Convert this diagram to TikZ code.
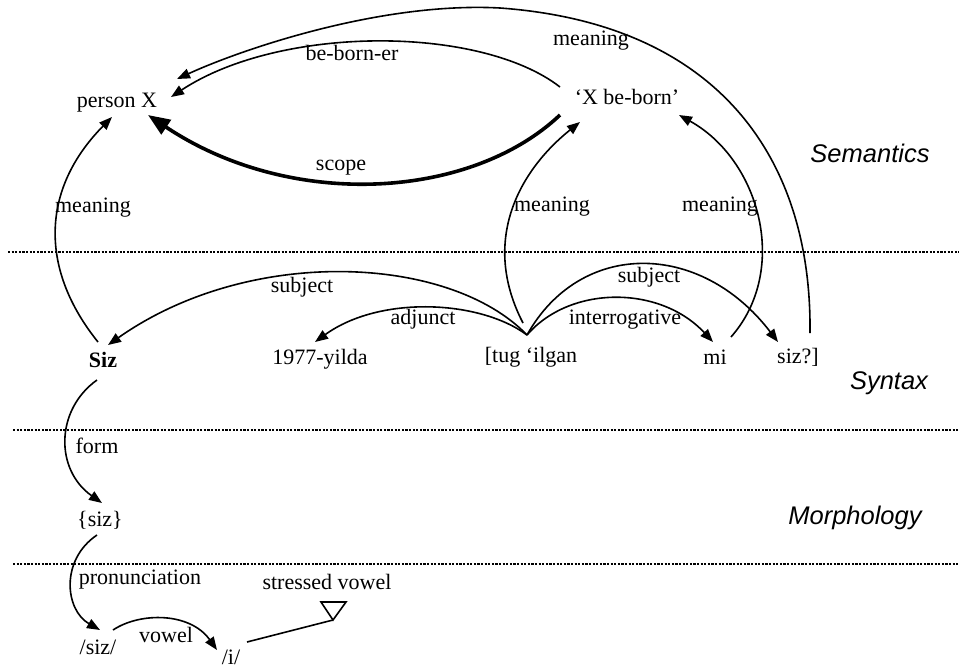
\documentclass[tikz,border=0pt]{standalone}
\usepackage{fontspec}
\setmainfont{Liberation Serif}
\setsansfont{Liberation Sans}
\usetikzlibrary{arrows.meta,calc}

\tikzset{
  word/.style={inner sep=0pt, anchor=center, font=\fontsize{22}{26}\selectfont},
  lbl/.style={inner sep=0pt, anchor=center, font=\fontsize{22}{26}\selectfont},
  level/.style={inner sep=0pt, anchor=center, font=\fontsize{25.5}{30}\selectfont\sffamily\itshape},
  rel/.style={line width=1.6pt, -{Triangle[length=13pt,width=10pt]}},
  plain/.style={line width=1.6pt},
  scoperel/.style={line width=3.6pt, -{Triangle[length=22pt,width=17pt]}},
  divider/.style={line width=2.6pt, dash pattern=on 2.2pt off 1.4pt}
}

\begin{document}
\begin{tikzpicture}[x=1pt,y=-1pt]
\useasboundingbox (0,0) rectangle (959,670);

% level dividers
\draw[divider] (8,252) -- (959,252);
\draw[divider] (13,430) -- (959,430);
\draw[divider] (13,564) -- (959,564);

% level names
\node[level] (sem) at (870,153) {Semantics};
\node[level] (syn) at (889,383) {Syntax};
\node[level] (mor) at (855,518) {Morphology};

% semantic nodes
\node[word] (pX) at (117,103) {person X};
\node[word] (xb) at (627,97) {‘X be-born’};

% syntactic words
\node[word] (siz) at (103,360) {\bfseries Siz};
\node[word] (yil) at (320,359) {1977-yilda};
\node[word] (tug) at (531,357) {[tug ‘ilgan};
\node[word] (mi) at (715,357) {mi};
\node[word] (sizq) at (798,357) {siz?]};

% morphology and phonology
\node[word] (mset) at (100,520) {\{siz\}};
\node[word] (phon) at (98,647) {/siz/};
\node[word] (vi) at (231,657) {/i/};
\node[word] (stv) at (327,582) {stressed vowel};
\coordinate (tri) at (333,620);
\draw[plain, line join=miter] ($(tri)+(-12,-18)$) -- ($(tri)+(13,-18)$) -- (tri) -- cycle;

% semantic relations
\draw[rel] ($(sizq)+(12,-24)$) .. controls (812,160) and (720,24) .. (500,8)
  .. controls (380,1.5) and (240,50) .. ($(pX)+(60,-24)$);
\draw[rel] ($(xb)+(-67,-10)$) .. controls (480,25) and (280,25) .. ($(pX)+(54,-6)$);
\draw[scoperel] ($(xb)+(-67,18)$) .. controls (470,200) and (290,210) .. ($(pX)+(31,12)$);
\draw[rel] ($(siz)+(-5,-18)$) .. controls (40,270) and (40,190) .. ($(pX)+(-5,14)$);
\draw[rel] ($(tug)+(-8,-34)$) .. controls (480,240) and (520,170) .. ($(xb)+(-47,25)$);
\draw[rel] ($(mi)+(16,-20)$) .. controls (790,270) and (760,160) .. ($(xb)+(52,18)$);

% syntactic relations
\draw[rel] ($(tug)+(-4,-22)$) .. controls (450,255) and (250,245) .. ($(siz)+(5,-15)$);
\draw[rel] ($(tug)+(-4,-22)$) .. controls (480,300) and (380,295) .. ($(yil)+(-5,-17)$);
\draw[rel] ($(tug)+(-4,-22)$) .. controls (580,240) and (700,240) .. ($(sizq)+(-20,-15)$);
\draw[rel] ($(tug)+(-4,-22)$) .. controls (570,285) and (660,285) .. ($(mi)+(-2,-15)$);

% form and pronunciation
\draw[rel] ($(siz)+(-6,20)$) .. controls (55,410) and (55,470) .. ($(mset)+(2,-17)$);
\draw[rel] ($(mset)+(-3,15)$) .. controls (60,560) and (65,610) .. ($(phon)+(2,-17)$);
\draw[rel] ($(phon)+(15,-17)$) .. controls (140,612) and (190,612) .. ($(vi)+(-14,-7)$);
\draw[plain] ($(vi)+(16,-15)$) -- (tri);

% relation labels
\node[lbl] at (591,41) {meaning};
\node[lbl] at (352,53) {be-born-er};
\node[lbl] at (341,168) {scope};
\node[lbl] at (93,208) {meaning};
\node[lbl] at (552,207) {meaning};
\node[lbl] at (720,207) {meaning};
\node[lbl] at (302,287) {subject};
\node[lbl] at (423,319) {adjunct};
\node[lbl] at (649,277) {subject};
\node[lbl] at (625,320) {interrogative};
\node[lbl] at (97,446) {form};
\node[lbl] at (140,580) {pronunciation};
\node[lbl] at (166,635) {vowel};
\end{tikzpicture}
\end{document}
